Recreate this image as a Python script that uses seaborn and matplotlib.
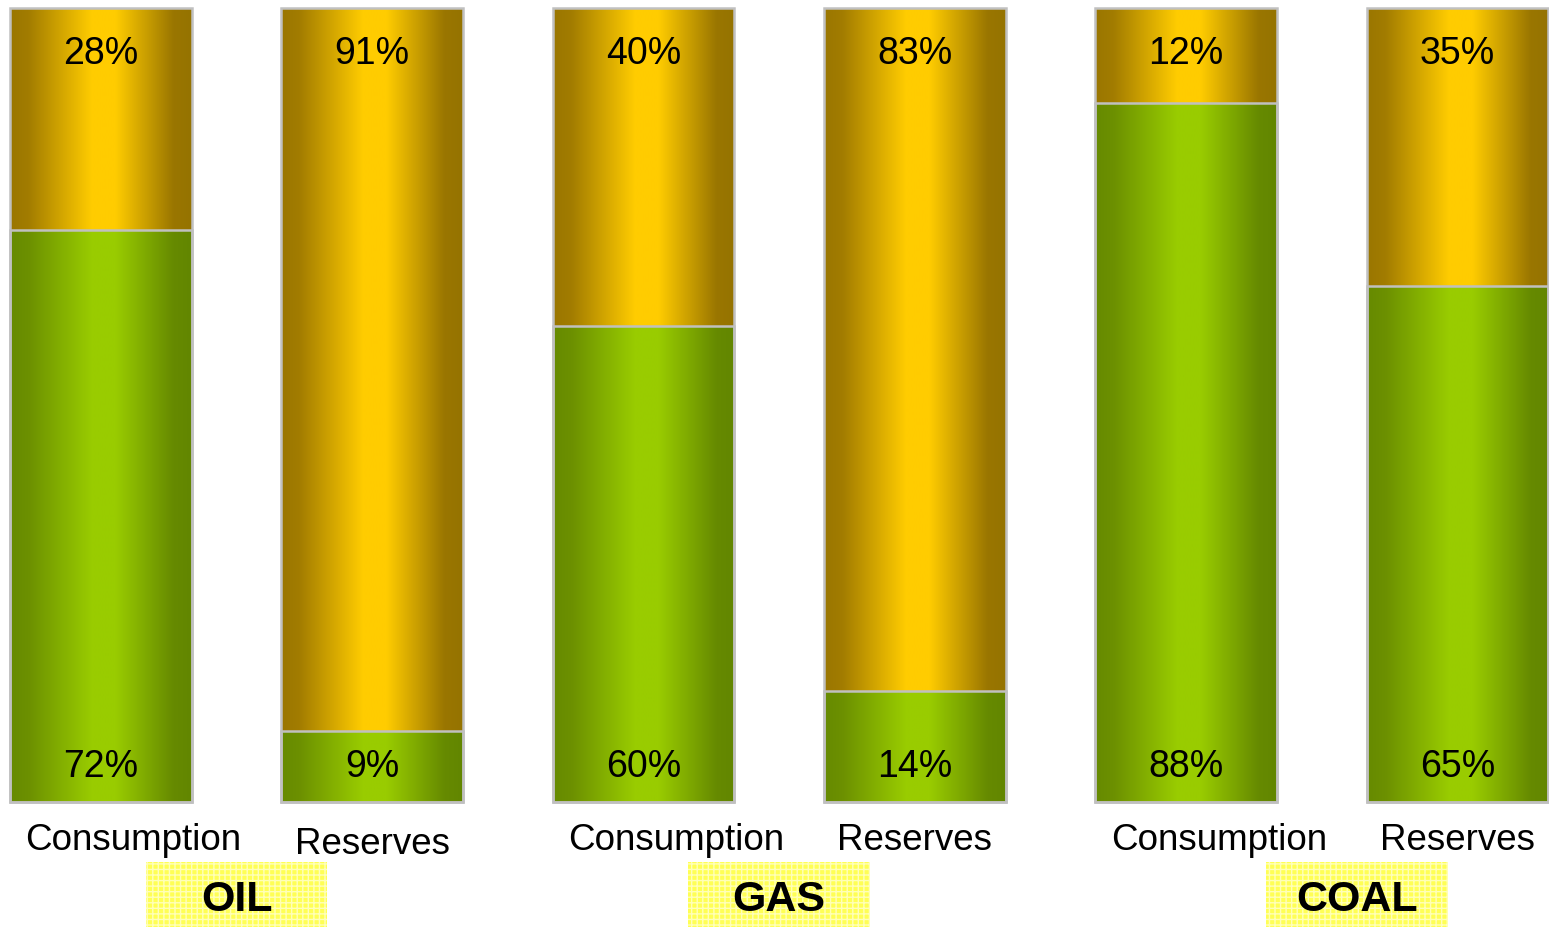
import numpy as np
import pandas as pd
import matplotlib
matplotlib.use("Agg")
import matplotlib.pyplot as plt
from matplotlib.colors import LinearSegmentedColormap
from matplotlib.patches import Rectangle
import seaborn as sns

# data
bars = ["Oil Consumption", "Oil Reserves", "Gas Consumption",
        "Gas Reserves", "Coal Consumption", "Coal Reserves"]
tick_labels = ["Consumption", "Reserves"] * 3
groups = ["OIL", "GAS", "COAL"]
green_pct = [72, 9, 60, 14, 88, 65]
gold_pct = [28, 91, 40, 83, 12, 35]
full = [100] * 6

sns.set_theme(style="white")
plt.rcParams['font.family'] = ['Liberation Sans', 'DejaVu Sans']
plt.rcParams['text.color'] = 'black'

df = pd.DataFrame({"bar": bars, "green": green_pct, "gold": gold_pct, "full": full})

fig = plt.figure(figsize=(15.49, 9.27), dpi=100)
ax = fig.add_axes([0, 0, 1, 1])

width = 0.67
sns.barplot(data=df, x="bar", y="full", ax=ax, width=width, color="#FFCC00",
            edgecolor="#C0C0C0", linewidth=1.8, saturation=1)
sns.barplot(data=df, x="bar", y="green", ax=ax, width=width, color="#99CC00",
            edgecolor="#C0C0C0", linewidth=1.8, saturation=1)

ax.axis("off")

gold_cmap = LinearSegmentedColormap.from_list(
    "gold", [(0, "#9A7600"), (0.1, "#A27C00"), (0.45, "#FFCC00"),
             (0.58, "#FFCC00"), (0.9, "#9A7600"), (1, "#957300")])
green_cmap = LinearSegmentedColormap.from_list(
    "green", [(0, "#668A00"), (0.1, "#6C9000"), (0.45, "#99CC00"),
              (0.58, "#99CC00"), (0.9, "#668A00"), (1, "#628600")])

grad = np.linspace(0, 1, 256).reshape(1, -1)
n = len(bars)
for i, patch in enumerate(ax.patches):
    cmap = gold_cmap if i < n else green_cmap
    x0, y0 = patch.get_x(), patch.get_y()
    w, h = patch.get_width(), patch.get_height()
    im = ax.imshow(grad, cmap=cmap, aspect="auto", extent=[x0, x0 + w, y0, y0 + h],
                   zorder=1, interpolation="bilinear")
    im.set_clip_path(patch)
    patch.set_facecolor("none")
    patch.set_zorder(2)

ax.set_xlim(-0.372, 5.337)
ax.set_ylim(-15.74, 101.0)

# percentage labels
for i in range(n):
    ax.text(i, 94.2, f"{gold_pct[i]}%", ha="center", va="center", fontsize=27,
            color="black", zorder=3)
    ax.text(i, 4.4, f"{green_pct[i]}%", ha="center", va="center", fontsize=27,
            color="black", zorder=3)

# category labels under each bar
for i, lab in enumerate(tick_labels):
    dx = 0.12 if lab == "Consumption" else 0.0
    dy = -5.4 if i == 1 else -4.8
    ax.text(i + dx, dy, lab, ha="center", va="center", fontsize=26.5, color="black")

# group labels on yellow boxes
for g, name in enumerate(groups):
    cx = 2 * g + 0.5 + (0.13 if name == "COAL" else 0.0)
    box = Rectangle((cx - width / 2, -15.74), width, 8.2, facecolor="#FFFF55",
                    edgecolor="#FFFFB8", hatch="+++", linewidth=0, zorder=1)
    ax.add_patch(box)
    ax.text(cx, -12.3, name, ha="center", va="center", fontsize=31,
            fontweight="bold", color="black", zorder=3)

fig.savefig("out.png", dpi=100)
